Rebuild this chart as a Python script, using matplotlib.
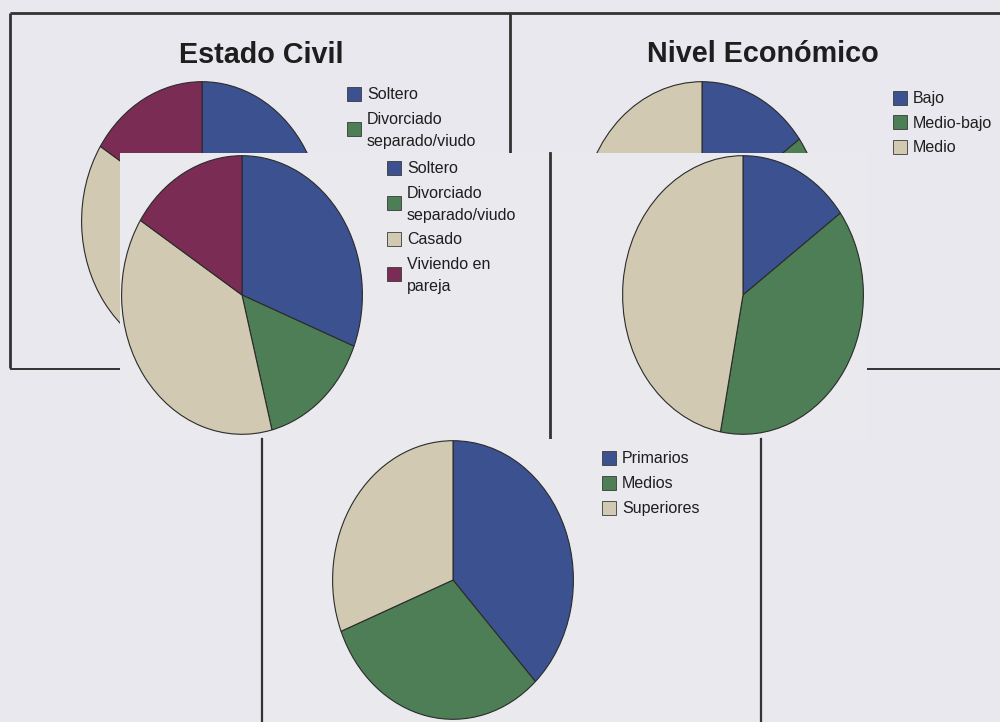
import matplotlib
matplotlib.use("Agg")
import matplotlib.pyplot as plt
from matplotlib.patches import Rectangle
from matplotlib import font_manager

# ---- data -------------------------------------------------------------
estado_title = "Estado Civil"
estado_labels = ["Soltero", "Divorciado\nseparado/viudo", "Casado", "Viviendo en\npareja"]
estado_values = [31, 15, 38, 16]

nivel_title = "Nivel Económico"
nivel_labels = ["Bajo", "Medio-bajo", "Medio"]
nivel_values = [15, 38, 47]

estudios_labels = ["Primarios", "Medios", "Superiores"]
estudios_values = [38, 31, 31]

slice_colors = ["#3c5190", "#4e7e55", "#d1c9b2", "#7a2c55"]

# ---- styling ----------------------------------------------------------
W, H = 1000, 722
BG = "#e8e8ee"
PATCH = "#eaeaee"
FRAME = "#333333"
TEXT = "#1e1e1e"

installed = {f.name for f in font_manager.fontManager.ttflist}
if "Liberation Sans Narrow" in installed:
    LEG_FONT, LEG_SIZE = "Liberation Sans Narrow", 14
else:
    LEG_FONT, LEG_SIZE = "Liberation Sans", 11.5
TITLE_FONT = "Liberation Sans"

fig = plt.figure(figsize=(W / 100, H / 100), dpi=100, facecolor=BG)


def rect(x0, y0, x1, y1):
    """Pixel box (top-left origin) -> figure fraction rect."""
    return [x0 / W, 1 - y1 / H, (x1 - x0) / W, (y1 - y0) / H]


def canvas(z):
    ax = fig.add_axes([0, 0, 1, 1], zorder=z)
    ax.set_xlim(0, W)
    ax.set_ylim(H, 0)
    ax.axis("off")
    ax.patch.set_alpha(0)
    return ax


def pie(cx, cy, values, z, rx=121, ry=140):
    ax = fig.add_axes(rect(cx - rx, cy - ry, cx + rx, cy + ry), zorder=z)
    ax.pie(values, colors=slice_colors[:len(values)], startangle=90,
           counterclock=False,
           wedgeprops=dict(edgecolor="#2b2b2b", linewidth=0.8))
    ax.set_aspect("auto")
    ax.set_xlim(-1.005, 1.005)
    ax.set_ylim(-1.005, 1.005)
    ax.patch.set_alpha(0)
    return ax


def legend(ax, x, y0, labels, colors, step=24.5, line=22, y_max=None):
    """Square-key legend; entries reaching below y_max are hidden by the
    panel laid over them, so they are not drawn."""
    y = y0
    prev_h = None
    cap = LEG_SIZE * 100 / 72 * 0.72
    for lab, col in zip(labels, colors):
        parts = lab.split("\n")
        h = step + line * (len(parts) - 1)
        if prev_h is not None:
            y += prev_h / 2 + h / 2
        prev_h = h
        if y_max is not None and y + h / 2 > y_max:
            break
        ax.add_patch(Rectangle((x, y - 7), 14, 14, facecolor=col,
                               edgecolor="#3a3a3a", linewidth=0.6))
        for k, txt in enumerate(parts):
            yk = y + (k - (len(parts) - 1) / 2) * line
            ax.text(x + 20, yk + cap / 2, txt, fontsize=LEG_SIZE,
                    family=[LEG_FONT, "DejaVu Sans"], color=TEXT,
                    va="baseline", ha="left")


# ---- back layer: the two framed panels ---------------------------------
back = canvas(0)
lw = 2.0
back.plot([10, 10], [13, 368], color=FRAME, lw=lw, solid_capstyle="butt")
back.plot([10, W], [13, 13], color=FRAME, lw=lw, solid_capstyle="butt")
back.plot([510, 510], [13, 369], color=FRAME, lw=lw, solid_capstyle="butt")
back.plot([10, W], [368.5, 368.5], color=FRAME, lw=1.4, solid_capstyle="butt")

back.text(261, 63, estado_title, fontsize=20.7, fontweight="bold",
          family=TITLE_FONT, color=TEXT, ha="center", va="baseline")
back.text(763, 62, nivel_title, fontsize=20.7, fontweight="bold",
          family=TITLE_FONT, color=TEXT, ha="center", va="baseline")

legend(back, 347, 93.5, estado_labels, slice_colors, y_max=153)
legend(back, 893, 97.5, nivel_labels, slice_colors)

pie(202, 221, estado_values, z=1)
pie(702, 221, nivel_values, z=1)

# ---- front panels ------------------------------------------------------
pa = fig.add_axes(rect(120, 153, 550, 439), zorder=2, facecolor=PATCH)
pa.set_xticks([]); pa.set_yticks([])
for s in pa.spines.values():
    s.set_visible(False)

pb = fig.add_axes(rect(550, 153, 867, 439), zorder=2, facecolor=PATCH)
pb.set_xticks([]); pb.set_yticks([])
for name, s in pb.spines.items():
    s.set_visible(name == "left")
    s.set_color(FRAME); s.set_linewidth(lw)

pc = fig.add_axes(rect(262, 439, 761, 722), zorder=2, facecolor=PATCH)
pc.set_xticks([]); pc.set_yticks([])
for name, s in pc.spines.items():
    s.set_visible(name in ("left", "right"))
    s.set_color(FRAME); s.set_linewidth(1.6)

pie(242, 295, estado_values, z=3)
pie(743, 295, nivel_values, z=3)
pie(453, 580, estudios_values, z=3)

front = canvas(4)
legend(front, 387, 167.5, estado_labels, slice_colors)
legend(front, 602, 457.5, estudios_labels, slice_colors, step=25)

fig.savefig("out.png", dpi=100, facecolor=BG)
